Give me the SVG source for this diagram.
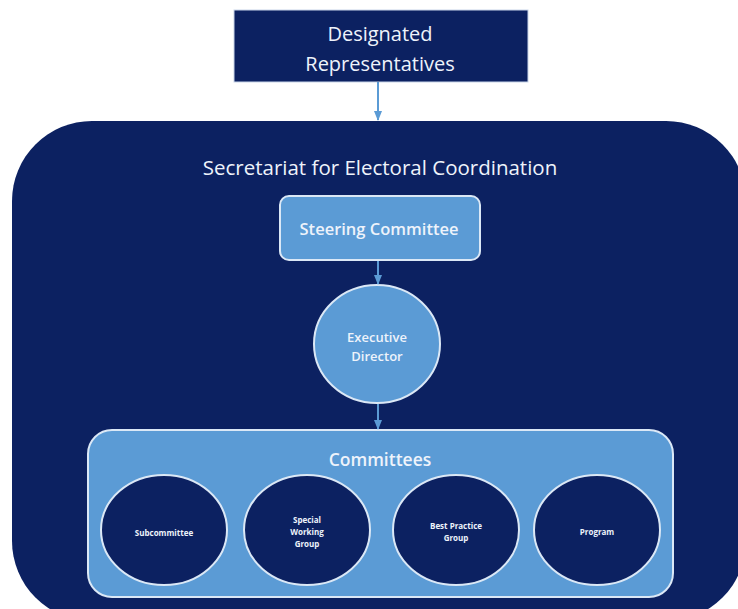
<svg xmlns="http://www.w3.org/2000/svg" width="738" height="609" viewBox="0 0 738 609">
<defs>
<style>
.navy{fill:#0c2161}
.light{fill:#5b9bd5;stroke:#dbe8f6;stroke-width:2}
.dark{fill:#0c2161;stroke:#dbe8f6;stroke-width:2}
text{font-family:"Open Sans","Liberation Sans",sans-serif;fill:#eef3fb;text-anchor:middle}
.conn{stroke:#5b9bd5;stroke-width:2;fill:none}
</style>
<marker id="arr" markerWidth="10" markerHeight="8" refX="9" refY="4" orient="auto" markerUnits="userSpaceOnUse">
<path d="M0,0 L10,4 L0,8 Z" fill="#5b9bd5"/>
</marker>
</defs>
<rect width="738" height="609" fill="#ffffff"/>
<g id="secretariat">
<rect class="navy" x="12" y="121" width="734" height="500" rx="80" ry="80"/>
<text x="380" y="175" font-size="20.5">Secretariat for Electoral Coordination</text>
</g>
<g id="designated">
<rect x="234" y="10" width="294" height="72" fill="#0c2161" stroke="#c9d6ea" stroke-width="1"/>
<text x="380" y="41" font-size="20">Designated</text>
<text x="380" y="71" font-size="20">Representatives</text>
</g>
<g id="steering">
<rect class="light" x="280" y="196" width="200" height="64" rx="9"/>
<text x="379" y="235" font-size="16.5" font-weight="600">Steering Committee</text>
</g>
<g id="executive">
<ellipse class="light" cx="377" cy="344" rx="63" ry="59"/>
<text x="377" y="342" font-size="13" font-weight="600">Executive</text>
<text x="377" y="361" font-size="13" font-weight="600">Director</text>
</g>
<g id="committees">
<rect class="light" x="88" y="430" width="585" height="167" rx="24"/>
<text x="380" y="466" font-size="17.5" font-weight="600">Committees</text>
</g>
<g id="subcommittee">
<ellipse class="dark" cx="164" cy="530" rx="63" ry="55"/>
<text x="164" y="536" font-size="8" font-weight="700">Subcommittee</text>
</g>
<g id="special">
<ellipse class="dark" cx="307" cy="530" rx="63" ry="55"/>
<text x="307" y="523" font-size="8" font-weight="700">Special</text>
<text x="307" y="535" font-size="8" font-weight="700">Working</text>
<text x="307" y="547" font-size="8" font-weight="700">Group</text>
</g>
<g id="bestpractice">
<ellipse class="dark" cx="456" cy="530" rx="63" ry="55"/>
<text x="456" y="529" font-size="8" font-weight="700">Best Practice</text>
<text x="456" y="541" font-size="8" font-weight="700">Group</text>
</g>
<g id="program">
<ellipse class="dark" cx="597" cy="530" rx="63" ry="55"/>
<text x="597" y="535" font-size="8" font-weight="700">Program</text>
</g>
<g id="connectors">
<line class="conn" x1="378" y1="82" x2="378" y2="120" marker-end="url(#arr)"/>
<line class="conn" x1="378" y1="261" x2="378" y2="284" marker-end="url(#arr)"/>
<line class="conn" x1="378" y1="404" x2="378" y2="429" marker-end="url(#arr)"/>
</g>
</svg>
